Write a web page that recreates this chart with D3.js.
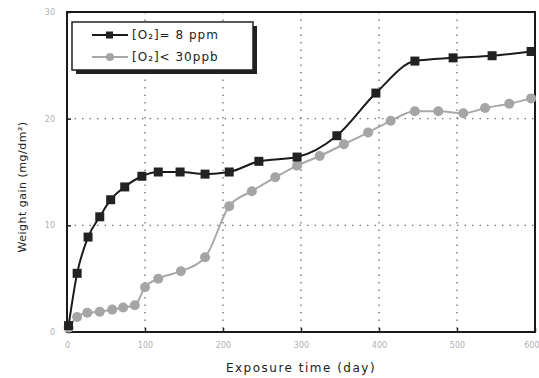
<!DOCTYPE html>
<html>
<head>
<meta charset="utf-8">
<script src="https://d3js.org/d3.v7.min.js"></script>
<style>
  body { margin: 0; background: #fff; }
  svg { display: block; }
</style>
</head>
<body>
<div id="chart"></div>
<script>
// [O2] = 8 ppm
var ppmDays   = [2, 13, 27, 42, 56, 74, 96, 117, 145, 177, 208, 246, 295, 346, 396, 446, 495, 545, 595];
var ppmGain   = [0.6, 5.5, 8.9, 10.8, 12.4, 13.6, 14.6, 15.0, 15.0, 14.8, 15.0, 16.0, 16.4, 18.4, 22.4, 25.4, 25.7, 25.9, 26.3];
// [O2] < 30 ppb
var ppbDays   = [2, 13, 26, 42, 58, 72, 87, 100, 117, 146, 177, 208, 237, 267, 295, 324, 355, 386, 415, 446, 476, 508, 536, 567, 595];
var ppbGain   = [0.4, 1.4, 1.8, 1.9, 2.1, 2.3, 2.5, 4.2, 5.0, 5.7, 7.0, 11.8, 13.2, 14.5, 15.6, 16.5, 17.6, 18.7, 19.8, 20.7, 20.7, 20.5, 21.0, 21.4, 21.9];

var xTicks = [0, 100, 200, 300, 400, 500, 600];
var yTicks = [0, 10, 20, 30];

var margin = {top: 12, right: 4, bottom: 46, left: 67};
var width = 539 - margin.left - margin.right;
var height = 378 - margin.top - margin.bottom;

var svg = d3.select("#chart")
  .append("svg")
    .attr("width", 539)
    .attr("height", 378)
  .append("g")
    .attr("transform", "translate(" + margin.left + "," + margin.top + ")");

var x = d3.scaleLinear().domain([0, 600]).range([0, width]);
var y = d3.scaleLinear().domain([0, 30]).range([height, 0]);

// dotted grid
svg.selectAll("line.vgrid")
  .data(xTicks.slice(1, -1))
  .enter().append("line")
    .attr("x1", d => x(d)).attr("x2", d => x(d))
    .attr("y1", 0).attr("y2", height)
    .attr("stroke", "#777")
    .attr("stroke-width", 1.4)
    .attr("stroke-dasharray", "1.5,6");
svg.selectAll("line.hgrid")
  .data(yTicks.slice(1, -1))
  .enter().append("line")
    .attr("x1", 0).attr("x2", width)
    .attr("y1", d => y(d)).attr("y2", d => y(d))
    .attr("stroke", "#777")
    .attr("stroke-width", 1.4)
    .attr("stroke-dasharray", "1.5,6");

// axes (ticks labels light grey)
var xAxis = svg.append("g")
  .attr("transform", "translate(0," + height + ")")
  .call(d3.axisBottom(x).tickValues(xTicks).tickSize(-4).tickPadding(10));
var yAxis = svg.append("g")
  .call(d3.axisLeft(y).tickValues(yTicks).tickSize(-4).tickPadding(12));
[xAxis, yAxis].forEach(function(a) {
  a.select(".domain").remove();
  a.selectAll("line").attr("stroke", "#222").attr("stroke-width", 1.5);
  a.selectAll("text")
    .attr("fill", "#b0b0b0")
    .style("font-family", "DejaVu Sans")
    .style("font-size", "8px");
});
xAxis.selectAll(".tick:last-of-type text").attr("text-anchor", "end").attr("dx", "4");

// frame
svg.append("rect")
  .attr("x", 0).attr("y", 0)
  .attr("width", width).attr("height", height)
  .attr("fill", "none")
  .attr("stroke", "#1a1a1a")
  .attr("stroke-width", 2);

var line = d3.line()
  .curve(d3.curveMonotoneX)
  .x(d => x(d[0]))
  .y(d => y(d[1]));

var ppb = ppbDays.map((d, i) => [d, ppbGain[i]]);
var ppm = ppmDays.map((d, i) => [d, ppmGain[i]]);

// grey series
svg.append("path")
  .datum(ppb)
  .attr("d", line)
  .attr("fill", "none")
  .attr("stroke", "#a8a8a8")
  .attr("stroke-width", 2);
svg.selectAll("circle.ppb")
  .data(ppb)
  .enter().append("circle")
    .attr("cx", d => x(d[0]))
    .attr("cy", d => y(d[1]))
    .attr("r", 5)
    .attr("fill", "#a5a5a5");

// black series
svg.append("path")
  .datum(ppm)
  .attr("d", line)
  .attr("fill", "none")
  .attr("stroke", "#1a1a1a")
  .attr("stroke-width", 2);
svg.selectAll("rect.ppm")
  .data(ppm)
  .enter().append("rect")
    .attr("x", d => x(d[0]) - 4.5)
    .attr("y", d => y(d[1]) - 4.5)
    .attr("width", 9)
    .attr("height", 9)
    .attr("fill", "#222");

// legend
var lg = svg.append("g").attr("transform", "translate(5,10)");
lg.append("rect")
  .attr("x", 4).attr("y", 4)
  .attr("width", 181).attr("height", 48)
  .attr("fill", "#222");
lg.append("rect")
  .attr("x", 0).attr("y", 0)
  .attr("width", 181).attr("height", 48)
  .attr("fill", "#fff")
  .attr("stroke", "#222")
  .attr("stroke-width", 1.5);

lg.append("line").attr("x1", 20).attr("x2", 56).attr("y1", 13).attr("y2", 13)
  .attr("stroke", "#1a1a1a").attr("stroke-width", 2);
lg.append("rect").attr("x", 34).attr("y", 9.5).attr("width", 7).attr("height", 7).attr("fill", "#222");
lg.append("line").attr("x1", 20).attr("x2", 56).attr("y1", 35).attr("y2", 35)
  .attr("stroke", "#a8a8a8").attr("stroke-width", 2);
lg.append("circle").attr("cx", 38).attr("cy", 35).attr("r", 4).attr("fill", "#a5a5a5");

var legendText = ["[O\u2082]= 8 ppm", "[O\u2082]< 30ppb"];
lg.selectAll("text.leg")
  .data(legendText)
  .enter().append("text")
    .attr("x", 60)
    .attr("y", (d, i) => 17 + i * 22)
    .style("font-family", "DejaVu Sans")
    .style("font-size", "12px")
    .style("letter-spacing", "1px")
    .attr("fill", "#222")
    .text(d => d);

// axis titles
svg.append("text")
  .attr("x", width / 2)
  .attr("y", height + 40)
  .style("text-anchor", "middle")
  .style("font-family", "DejaVu Sans")
  .style("font-size", "12px")
  .style("letter-spacing", "1.5px")
  .attr("fill", "#222")
  .text("Exposure time (day)");

svg.append("text")
  .attr("transform", "rotate(-90)")
  .attr("x", -175)
  .attr("y", -41)
  .style("text-anchor", "middle")
  .style("font-family", "DejaVu Sans")
  .style("font-size", "11px")
  .style("letter-spacing", "0.5px")
  .attr("fill", "#222")
  .text("Weight gain (mg/dm\u00b2)");
</script>
</body>
</html>
